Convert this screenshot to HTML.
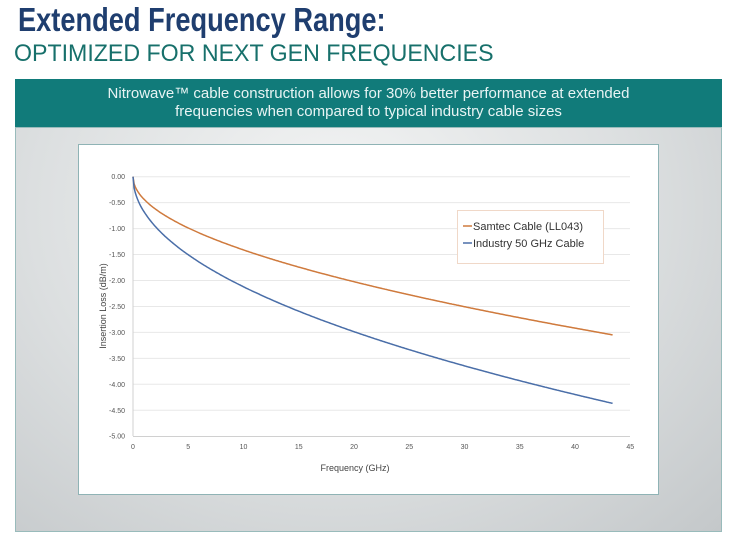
<!DOCTYPE html>
<html><head><meta charset="utf-8"><style>
body{margin:0;width:736px;height:547px;background:#fff;position:relative;overflow:hidden;font-family:"Liberation Sans",sans-serif}
.t1{position:absolute;left:18px;top:1px;font-size:33px;font-weight:bold;color:#1f3e6f;transform:scaleX(0.825);transform-origin:0 0;white-space:nowrap}
.t2{position:absolute;left:14px;top:40px;font-size:24px;color:#17706b;transform:scaleX(0.965);transform-origin:0 0;white-space:nowrap}
.bar{position:absolute;left:15px;top:79px;width:707px;height:48px;background:#117b7a;font-size:15px;text-align:center;line-height:18px;padding-top:6px;box-sizing:border-box;color:#e8f4f4}
.gray{position:absolute;left:15px;top:127px;width:707px;height:405px;background:radial-gradient(ellipse at 45% 20%,#f4f5f5 0%,#dcdfe0 55%,#c4c8ca 100%);border:1px solid #9bb;box-sizing:border-box}
</style></head><body>
<div class="t1">Extended Frequency Range:</div>
<div class="t2">OPTIMIZED FOR NEXT GEN FREQUENCIES</div>
<div class="bar">Nitrowave™ cable construction allows for 30% better performance at extended<br>frequencies when compared to typical industry cable sizes</div>
<div class="gray"></div>
<svg style="position:absolute;left:0;top:0" width="736" height="547">
<rect x="78.5" y="144.5" width="580" height="350" fill="#fff" stroke="#8fb3b5"/>
<g id="g" stroke="#e8e8e8" stroke-width="1"></g>
<line x1="133" y1="176.5" x2="133" y2="436" stroke="#d0d0d0"/>
<line x1="133" y1="436.5" x2="630" y2="436.5" stroke="#d0d0d0"/>
<g id="lab" font-size="7" fill="#555" font-family="Liberation Sans"></g>
<text x="106" y="306" font-size="9" fill="#444" transform="rotate(-90 106 306)" text-anchor="middle">Insertion Loss (dB/m)</text>
<text x="355" y="471" font-size="9" fill="#444" text-anchor="middle">Frequency (GHz)</text>
<path id="s" fill="none" stroke="#cf7a3d" stroke-width="1.5"/>
<path id="i" fill="none" stroke="#4a6ea8" stroke-width="1.5"/>
<rect x="457.5" y="210.5" width="146" height="53" fill="#fff" stroke="#f0d8c8"/>
<line x1="463" y1="226" x2="472" y2="226" stroke="#cf7a3d" stroke-width="1.5"/>
<line x1="463" y1="243" x2="472" y2="243" stroke="#4a6ea8" stroke-width="1.5"/>
<text x="473" y="230" font-size="11" fill="#333">Samtec Cable (LL043)</text>
<text x="473" y="247" font-size="11" fill="#333">Industry 50 GHz Cable</text>
</svg>
<script>
var X=function(f){return 133+f*11.05},Y=function(v){return 176.7-v*51.9};
var g=document.getElementById('g'),lab=document.getElementById('lab'),ns='http://www.w3.org/2000/svg';
for(var k=0;k<=10;k++){var v=-k*0.5,y=Y(v);if(k<10){var l=document.createElementNS(ns,'line');l.setAttribute('x1',133);l.setAttribute('x2',630);l.setAttribute('y1',y);l.setAttribute('y2',y);g.appendChild(l);}
var t=document.createElementNS(ns,'text');t.setAttribute('x',125);t.setAttribute('y',y+2.5);t.setAttribute('text-anchor','end');t.textContent=(k==0?'0.00':v.toFixed(2));lab.appendChild(t);}
for(var f=0;f<=45;f+=5){var t=document.createElementNS(ns,'text');t.setAttribute('x',X(f));t.setAttribute('y',449);t.setAttribute('text-anchor','middle');t.textContent=f;lab.appendChild(t);}
function p(a,b){var d='';for(var f=0;f<=43.5;f+=0.1){var v=-(a*Math.sqrt(f)+b*f);d+=(f==0?'M':'L')+X(f).toFixed(1)+','+Y(v).toFixed(1);}return d;}
document.getElementById('s').setAttribute('d',p(0.431,0.0048));
document.getElementById('i').setAttribute('d',p(0.678,-0.0023));
</script>
</body></html>
